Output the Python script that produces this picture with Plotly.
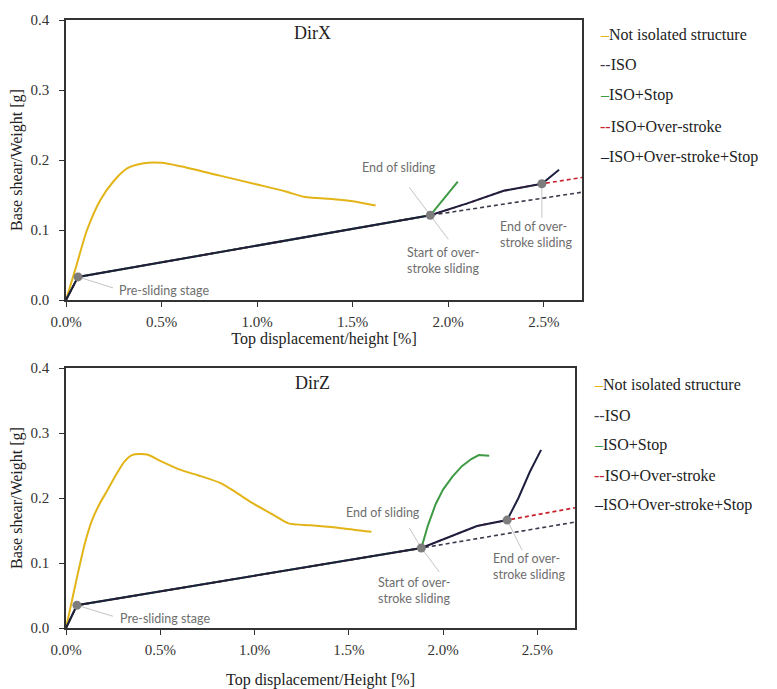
import plotly.graph_objects as go

# ---------------- DATA ----------------
series_names = ["Not isolated structure", "ISO", "ISO+Stop", "ISO+Over-stroke", "ISO+Over-stroke+Stop"]
legend_marks = ["\u2013", "--", "\u2013", "--", "\u2013"]

x_ticks = [0.0, 0.5, 1.0, 1.5, 2.0, 2.5]
x_tick_labels = ["0.0%", "0.5%", "1.0%", "1.5%", "2.0%", "2.5%"]
y_ticks = [0.0, 0.1, 0.2, 0.3, 0.4]
y_tick_labels = ["0.0", "0.1", "0.2", "0.3", "0.4"]

# DirX
x_notiso_X = [0, 0.05, 0.11, 0.18, 0.25, 0.32, 0.40, 0.50, 0.60, 0.80, 1.00, 1.15, 1.25, 1.40, 1.50, 1.62]
y_notiso_X = [0, 0.045, 0.100, 0.143, 0.170, 0.188, 0.195, 0.196, 0.191, 0.178, 0.165, 0.155, 0.147, 0.144, 0.141, 0.135]
x_iso_X = [0, 0.063, 1.906, 2.7]
y_iso_X = [0, 0.033, 0.121, 0.154]
x_stop_X = [0, 0.063, 1.906, 2.05]
y_stop_X = [0, 0.033, 0.121, 0.169]
x_os_X = [0, 0.063, 1.906, 2.10, 2.29, 2.49, 2.7]
y_os_X = [0, 0.033, 0.121, 0.138, 0.156, 0.166, 0.175]
x_osstop_X = [0, 0.063, 1.906, 2.10, 2.29, 2.49, 2.58]
y_osstop_X = [0, 0.033, 0.121, 0.138, 0.156, 0.166, 0.186]
x_key_X = [0.063, 1.906, 2.49]
y_key_X = [0.033, 0.121, 0.166]

# DirZ
x_notiso_Z = [0, 0.05, 0.10, 0.14, 0.18, 0.22, 0.27, 0.31, 0.35, 0.43, 0.50, 0.60, 0.70, 0.82, 0.90, 0.99, 1.10, 1.18, 1.30, 1.45, 1.62]
y_notiso_Z = [0, 0.067, 0.130, 0.167, 0.192, 0.212, 0.238, 0.256, 0.266, 0.267, 0.257, 0.244, 0.235, 0.223, 0.209, 0.192, 0.174, 0.161, 0.158, 0.154, 0.148]
x_iso_Z = [0, 0.058, 1.885, 2.7]
y_iso_Z = [0, 0.035, 0.123, 0.163]
x_stop_Z = [0, 0.058, 1.885, 1.92, 1.96, 2.00, 2.05, 2.10, 2.15, 2.19, 2.245]
y_stop_Z = [0, 0.035, 0.123, 0.158, 0.190, 0.213, 0.233, 0.249, 0.260, 0.266, 0.265]
x_os_Z = [0, 0.058, 1.885, 2.18, 2.34, 2.7]
y_os_Z = [0, 0.035, 0.123, 0.157, 0.166, 0.185]
x_osstop_Z = [0, 0.058, 1.885, 2.18, 2.34, 2.40, 2.46, 2.52]
y_osstop_Z = [0, 0.035, 0.123, 0.157, 0.166, 0.200, 0.240, 0.274]
x_key_Z = [0.058, 1.885, 2.34]
y_key_Z = [0.035, 0.123, 0.166]

# ---------------- STYLE ----------------
OFF = 8                      # page body margin
W, H = 777 - OFF, 689 - OFF  # figure size
colors = ["#e3b417", "#3b3b4d", "#3f9a45", "#c8202c", "#1e1f3f"]
dashes = ["solid", "4px,3px", "solid", "4px,3px", "solid"]
widths = [2, 1.6, 2, 1.6, 2]
shapes = ["spline", "linear", "linear", "linear", "linear"]
serif = "Liberation Serif, Times New Roman, serif"
sans = "Lato, Open Sans, sans-serif"
ann_color = "#6e6e6e"
lead_color = "#c4c4c4"

fig = go.Figure()

panels = [
    ("x", "y", [(x_notiso_X, y_notiso_X), (x_iso_X, y_iso_X), (x_stop_X, y_stop_X), (x_os_X, y_os_X), (x_osstop_X, y_osstop_X)], (x_key_X, y_key_X)),
    ("x2", "y2", [(x_notiso_Z, y_notiso_Z), (x_iso_Z, y_iso_Z), (x_stop_Z, y_stop_Z), (x_os_Z, y_os_Z), (x_osstop_Z, y_osstop_Z)], (x_key_Z, y_key_Z)),
]
for xa, ya, sers, keys in panels:
    for i, (xs, ys) in enumerate(sers):
        fig.add_trace(go.Scatter(x=xs, y=ys, mode="lines", name=series_names[i], showlegend=False,
                                 line=dict(color=colors[i], width=widths[i], dash=dashes[i], shape=shapes[i], smoothing=0.7),
                                 xaxis=xa, yaxis=ya, hoverinfo="skip"))
    fig.add_trace(go.Scatter(x=keys[0], y=keys[1], mode="markers", showlegend=False,
                             marker=dict(color="#7d7d7d", size=9), xaxis=xa, yaxis=ya, hoverinfo="skip"))

def xdom(l, r):
    return [(l - OFF) / W, (r - OFF) / W]

def ydom(top, bot):
    return [(H - (bot - OFF)) / H, (H - (top - OFF)) / H]

def px(x):
    return (x - OFF) / W

def py(y):
    return (H - (y - OFF)) / H

axis_common = dict(showgrid=False, zeroline=False, ticks="outside", ticklen=5, tickwidth=1, tickcolor="#333",
                   linecolor="#333", linewidth=1.5, mirror=True, automargin=False,
                   tickfont=dict(family=serif, size=15, color="#333"))
tfont = dict(family=serif, size=16, color="#222")

fig.update_layout(
    width=W, height=H, margin=dict(l=0, r=0, t=0, b=0),
    paper_bgcolor="white", plot_bgcolor="white",
    xaxis=dict(domain=xdom(66, 582), anchor="y", range=[0, 2.7], tickvals=x_ticks, ticktext=x_tick_labels,
               ticklabelstandoff=2, title=dict(text="Top displacement/height [%]", font=tfont, standoff=3), **axis_common),
    yaxis=dict(domain=ydom(20, 300), anchor="x", range=[0, 0.4], tickvals=y_ticks, ticktext=y_tick_labels,
               ticklabelstandoff=7, title=dict(text="Base shear/Weight [g]", font=tfont, standoff=6), **axis_common),
    xaxis2=dict(domain=xdom(66, 575), anchor="y2", range=[0, 2.7], tickvals=x_ticks, ticktext=x_tick_labels,
                ticklabelstandoff=2, title=dict(text="Top displacement/Height [%]", font=tfont, standoff=18), **axis_common),
    yaxis2=dict(domain=ydom(368, 628), anchor="x2", range=[0, 0.4], tickvals=y_ticks, ticktext=y_tick_labels,
                ticklabelstandoff=7, title=dict(text="Base shear/Weight [g]", font=tfont, standoff=6), **axis_common),
)

ann = []
# panel titles
ann.append(dict(text="DirX", x=1.288, y=0.381, xref="x", yref="y", showarrow=False, font=dict(family=serif, size=18, color="#222")))
ann.append(dict(text="DirZ", x=1.308, y=0.377, xref="x2", yref="y2", showarrow=False, font=dict(family=serif, size=18, color="#222")))

lab_font = dict(family=sans, size=12.5, color=ann_color)
# labels DirX
ann += [
    dict(text="Pre-sliding stage", x=0.268, y=0.014, xref="x", yref="y", xanchor="left", showarrow=False, font=lab_font),
    dict(text="End of sliding", x=1.948, y=0.189, xref="x", yref="y", xanchor="right", showarrow=False, font=lab_font),
    dict(text="Start of over-<br>stroke sliding", x=1.775, y=0.057, xref="x", yref="y", xanchor="left", align="left", showarrow=False, font=lab_font),
    dict(text="End of over-<br>stroke sliding", x=2.262, y=0.093, xref="x", yref="y", xanchor="left", align="left", showarrow=False, font=lab_font),
]
# labels DirZ
ann += [
    dict(text="Pre-sliding stage", x=0.275, y=0.015, xref="x2", yref="y2", xanchor="left", showarrow=False, font=lab_font),
    dict(text="End of sliding", x=1.891, y=0.177, xref="x2", yref="y2", xanchor="right", showarrow=False, font=lab_font),
    dict(text="Start of over-<br>stroke sliding", x=1.642, y=0.058, xref="x2", yref="y2", xanchor="left", align="left", showarrow=False, font=lab_font),
    dict(text="End of over-<br>stroke sliding", x=2.256, y=0.094, xref="x2", yref="y2", xanchor="left", align="left", showarrow=False, font=lab_font),
]

# leader lines (from key point, offset in screen px: dx right, dy down)
leaders_X = [(0, 35, 11), (1, -21, -28), (1, 18, 24), (2, 0, 34)]
leaders_Z = [(0, 36, 11), (1, -12, -20), (1, 18, 24), (2, 15, 30)]
shp = []
for xa, ya, keys, leads in [("x", "y", (x_key_X, y_key_X), leaders_X), ("x2", "y2", (x_key_Z, y_key_Z), leaders_Z)]:
    for k, dx, dy in leads:
        shp.append(dict(type="line", xref=xa, yref=ya, xsizemode="pixel", ysizemode="pixel",
                        xanchor=keys[0][k], yanchor=keys[1][k], x0=0, x1=dx, y0=0, y1=-dy,
                        line=dict(color=lead_color, width=1), layer="below"))

# legends (as text)
leg_font = dict(family=serif, size=16, color="#222")
for lx, tops in [(598, [35, 65, 95, 126, 157]), (592, [384, 415, 445, 475, 505])]:
    for i, yy in enumerate(tops):
        txt = "<span style='color:%s'>%s</span>%s" % (colors[i], legend_marks[i], series_names[i])
        ann.append(dict(text=txt, x=px(lx), y=py(yy), xref="paper", yref="paper",
                        xanchor="left", yanchor="middle", showarrow=False, font=leg_font))

fig.update_layout(annotations=ann, shapes=shp)
fig.write_html("out.html")
